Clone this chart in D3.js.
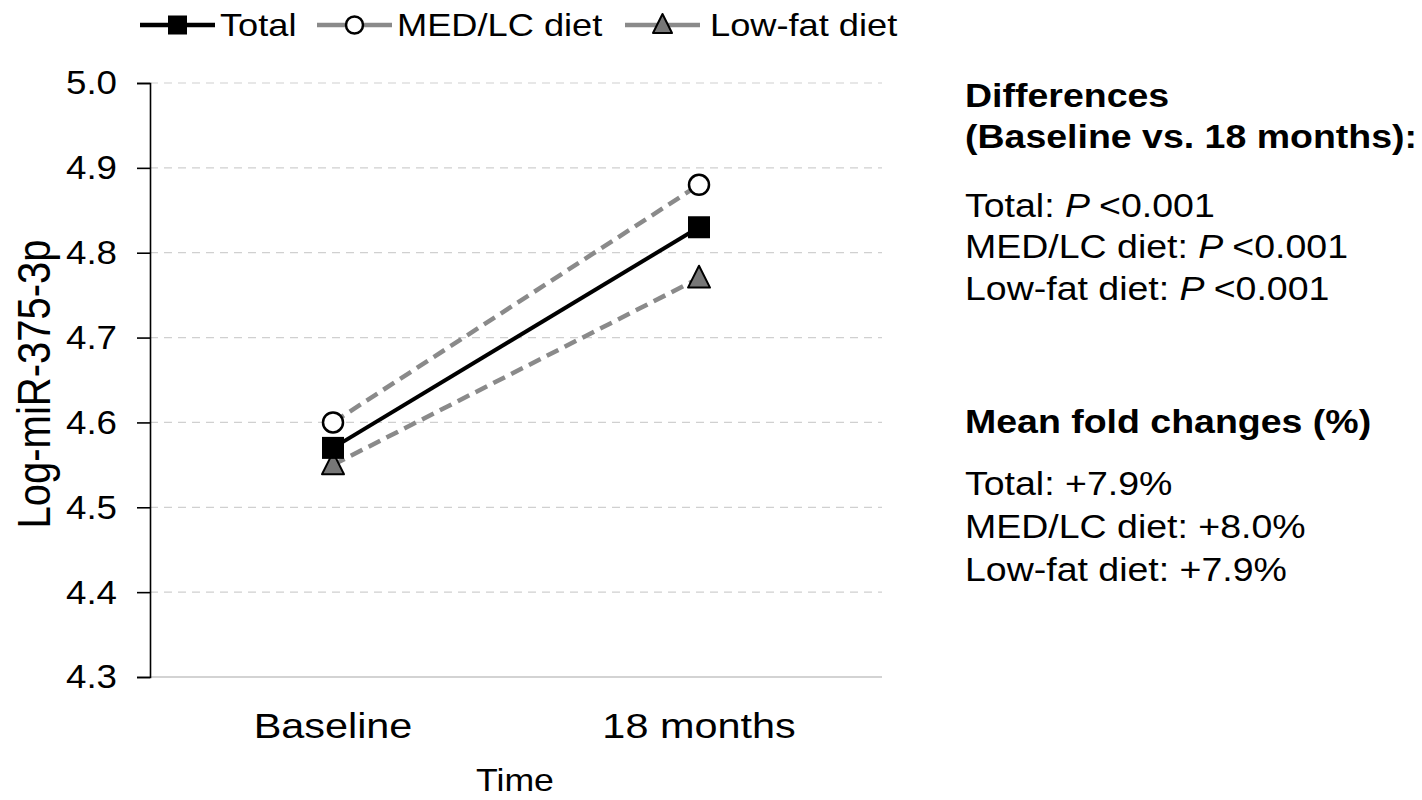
<!DOCTYPE html>
<html>
<head>
<meta charset="utf-8">
<script src="https://cdn.jsdelivr.net/npm/d3@7"></script>
<style>
  body { margin: 0; background: #fff; }
  svg text { font-family: "Liberation Sans", Arial, sans-serif; fill: #000; }
</style>
</head>
<body>
<svg id="chart" width="1422" height="800"></svg>
<script>
// data
const timepoints = ["Baseline", "18 months"];
const total = [4.57, 4.83];
const medlc = [4.60, 4.88];
const lowfat = [4.55, 4.77];
const yTicks = [4.3, 4.4, 4.5, 4.6, 4.7, 4.8, 4.9, 5.0];
const diffLines = [["Total: ", "<0.001"], ["MED/LC diet: ", "<0.001"], ["Low-fat diet: ", "<0.001"]];
const foldLines = ["Total: +7.9%", "MED/LC diet: +8.0%", "Low-fat diet: +7.9%"];

const series = [
  { name: "Total", values: total, color: "#000", dash: null, shape: "square", fill: "#000" },
  { name: "MED/LC diet", values: medlc, color: "#8a8a8a", dash: "13,7", shape: "circle", fill: "#fff" },
  { name: "Low-fat diet", values: lowfat, color: "#8a8a8a", dash: "13,7", shape: "triangle", fill: "#777" }
];

const SX = 1.15; // text in the picture is a bit wide
const svg = d3.select("#chart");
const plotL = 150, plotR = 882, plotT = 83, plotB = 677;

const x = d3.scalePoint().domain(timepoints).range([plotL, plotR]).padding(0.5);
const y = d3.scaleLinear().domain([4.3, 5.0]).range([plotB, plotT]);

// text helper: wide text
const label = (parent, tx, ty, size, str, anchor = "start", weight = "normal", sx = SX) =>
  parent.append("text")
    .attr("transform", `translate(${tx},${ty}) scale(${sx},1)`)
    .attr("font-size", size)
    .attr("font-weight", weight)
    .attr("text-anchor", anchor)
    .text(str);

// gridlines
svg.append("g").selectAll("line")
  .data(yTicks.filter(t => t > 4.3))
  .enter().append("line")
  .attr("x1", plotL).attr("x2", plotR)
  .attr("y1", d => y(d)).attr("y2", d => y(d))
  .attr("stroke", "#d0d0d0").attr("stroke-width", 1.2)
  .attr("stroke-dasharray", "8,6");

// bottom axis line
svg.append("line")
  .attr("x1", plotL).attr("x2", plotR)
  .attr("y1", plotB).attr("y2", plotB)
  .attr("stroke", "#c4c4c4").attr("stroke-width", 1.5);

// y axis
const yAxis = svg.append("g")
  .attr("transform", `translate(${plotL},0)`)
  .call(d3.axisLeft(y).tickValues(yTicks).tickFormat(d3.format(".1f")).tickSize(13).tickPadding(20));
yAxis.select(".domain").attr("stroke", "#000").attr("stroke-width", 1.6);
yAxis.selectAll(".tick line").attr("stroke", "#000").attr("stroke-width", 1.6);
yAxis.selectAll(".tick text")
  .attr("font-size", 34).attr("font-family", "Liberation Sans, Arial, sans-serif").attr("fill", "#000")
  .attr("x", -33 / 1.08).attr("transform", "scale(1.08,1)");

// x labels
timepoints.forEach(t => label(svg, x(t), 738, 36, t, "middle"));

// axis titles
label(svg, 515, 791, 31, "Time", "middle");

svg.append("text")
  .attr("transform", `translate(50,${(plotT + plotB) / 2 + 4}) scale(${SX},1) rotate(-90)`)
  .attr("text-anchor", "middle")
  .attr("font-size", 40)
  .text("Log-miR-375-3p");

// draw a marker
const drawMarker = (g, s, cx, cy, size) => {
  if (s.shape === "square") {
    g.append("rect").attr("x", cx - size / 2).attr("y", cy - size / 2)
      .attr("width", size).attr("height", size)
      .attr("fill", s.fill);
  } else if (s.shape === "circle") {
    g.append("circle").attr("cx", cx).attr("cy", cy).attr("r", size / 2 - 1)
      .attr("fill", s.fill).attr("stroke", "#000").attr("stroke-width", 2.5);
  } else {
    const h = size * 0.95;
    g.append("path")
      .attr("d", `M${cx},${cy - h / 2 - 2} L${cx + size / 2},${cy + h / 2 - 1} L${cx - size / 2},${cy + h / 2 - 1} Z`)
      .attr("fill", s.fill).attr("stroke", "#000").attr("stroke-width", 2).attr("stroke-linejoin", "round");
  }
};

// lines
const line = d3.line()
  .x((d, i) => x(timepoints[i]))
  .y(d => y(d));

[series[1], series[2], series[0]].forEach(s => {
  svg.append("path")
    .datum(s.values)
    .attr("d", line)
    .attr("fill", "none")
    .attr("stroke", s.color)
    .attr("stroke-width", s.shape === "square" ? 4 : 4.5)
    .attr("stroke-dasharray", s.dash);
});

// markers (triangle first, then square, then circle on top)
const mg = svg.append("g");
[series[2], series[0], series[1]].forEach(s => {
  s.values.forEach((v, i) => {
    drawMarker(mg, s, x(timepoints[i]), y(v), 22);
  });
});

// legend
const legendItems = [
  { s: series[0], x0: 140, x1: 215, tx: 220 },
  { s: series[1], x0: 317, x1: 392, tx: 397 },
  { s: series[2], x0: 625, x1: 700, tx: 710 }
];
const lg = svg.append("g");
legendItems.forEach(it => {
  lg.append("line")
    .attr("x1", it.x0).attr("x2", it.x1)
    .attr("y1", 25).attr("y2", 25)
    .attr("stroke", it.s.color).attr("stroke-width", 4.5);
  drawMarker(lg, it.s, (it.x0 + it.x1) / 2, 25, 19);
  label(lg, it.tx, 36, 31.5, it.s.name);
});

// side annotations
const tx = 965;
label(svg, tx, 107, 32.6, "Differences", "start", "bold");
label(svg, tx, 148, 32.6, "(Baseline vs. 18 months):", "start", "bold");

diffLines.forEach((d, i) => {
  const t = label(svg, tx, 216.5 + i * 41.7, 32.6, null);
  t.append("tspan").text(d[0]);
  t.append("tspan").attr("font-style", "italic").text("P ");
  t.append("tspan").text(d[1]);
});

label(svg, tx, 433, 32.6, "Mean fold changes (%)", "start", "bold");
foldLines.forEach((d, i) => {
  label(svg, tx, 495 + i * 43, 32.6, d);
});
</script>
</body>
</html>
